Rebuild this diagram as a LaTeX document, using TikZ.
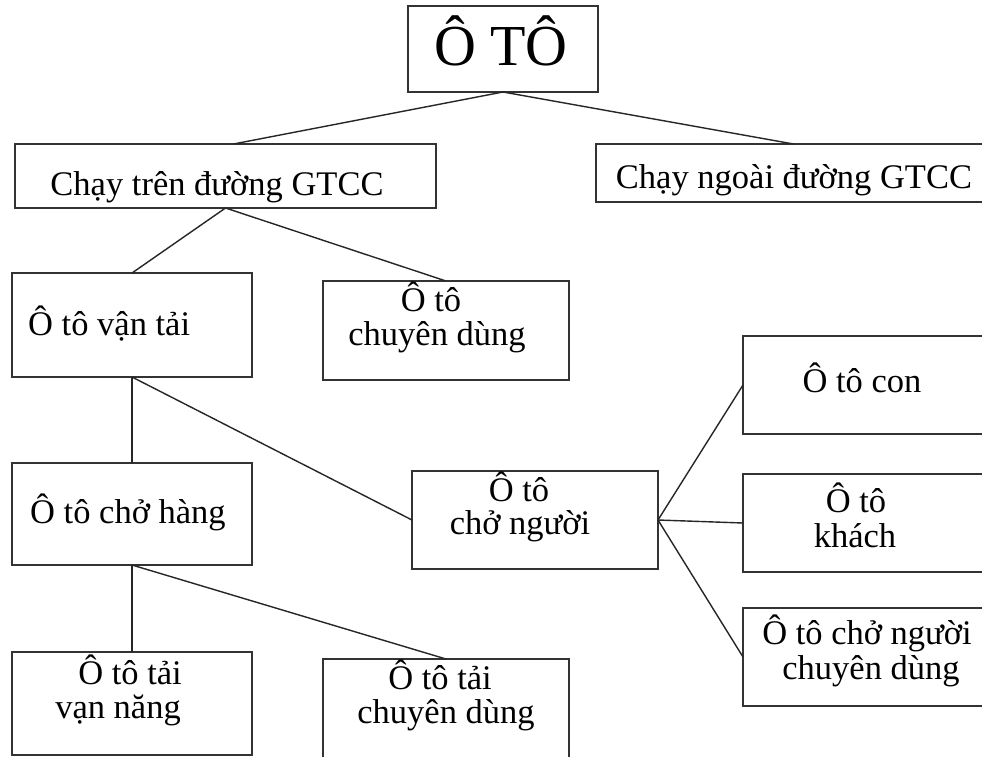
\documentclass[tikz,border=0pt]{standalone}
\usepackage{fontspec}
\setmainfont{Liberation Serif}
\begin{document}
\begin{tikzpicture}[x=1pt,y=-1pt,
  box/.style={draw=black!80,line width=1.8pt,inner sep=0pt,outer sep=0pt},
  conn/.style={draw=black!85,line width=1.4pt},
  lbl/.style={inner sep=0pt,anchor=base,font=\fontsize{34.5}{36}\selectfont},
  lblw/.style={inner sep=0pt,anchor=base west,font=\fontsize{34.5}{36}\selectfont}]
\clip (0,0) rectangle (982,757);
\fill[white] (0,0) rectangle (982,757);
% boxes
\newcommand{\mybox}[5]{\node[box,minimum width={#3-#2},minimum height={#5-#4}] (#1) at ({(#2+#3)/2},{(#4+#5)/2}) {};}
\mybox{root}{408}{598}{6}{92}
\mybox{A}{15}{436}{144}{208}
\mybox{B}{596}{991}{144}{202}
\mybox{C}{12}{252}{273}{377}
\mybox{D}{323}{569}{281}{380}
\mybox{E}{12}{252}{463}{565}
\mybox{F}{412}{658}{471}{569}
\mybox{G}{743}{995}{336}{434}
\mybox{H}{743}{995}{474}{572}
\mybox{I}{743}{995}{608}{706}
\mybox{J}{12}{252}{652}{755}
\mybox{K}{323}{569}{659}{790}
% texts
\node[lbl,font=\fontsize{58}{60}\selectfont] (t0) at (501,66) {Ô TÔ};
\node[lbl] (tA) at (217,195) {Chạy trên đường GTCC};
\node[lbl] (tB) at (794,188) {Chạy ngoài đường GTCC};
\node[lblw] (tC) at (28,335) {Ô tô vận tải};
\node[lbl] (tD1) at (431,311) {Ô tô};
\node[lbl] (tD2) at (437,345) {chuyên dùng};
\node[lblw] (tE) at (30,523) {Ô tô chở hàng};
\node[lbl] (tF1) at (519,501) {Ô tô};
\node[lbl] (tF2) at (520,534) {chở người};
\node[lbl] (tG) at (862,392) {Ô tô con};
\node[lbl] (tH1) at (856,512) {Ô tô};
\node[lbl] (tH2) at (855,547) {khách};
\node[lbl] (tI1) at (867,644) {Ô tô chở người};
\node[lbl] (tI2) at (871,679) {chuyên dùng};
\node[lbl] (tJ1) at (130,684) {Ô tô tải};
\node[lbl] (tJ2) at (118,718) {vạn năng};
\node[lbl] (tK1) at (440,689) {Ô tô tải};
\node[lbl] (tK2) at (446,723) {chuyên dùng};
% connectors
\draw[conn] (root.south) -- ([xshift=8pt]A.north);
\draw[conn] (root.south) -- (B.north);
\draw[conn] (A.south) -- (C.north);
\draw[conn] (A.south) -- (D.north);
\draw[conn] (C.south) -- (E.north);
\draw[conn] (C.south) -- (F.west);
\draw[conn] (E.south) -- (J.north);
\draw[conn] (E.south) -- (K.north);
\draw[conn] (F.east) -- (G.west);
\draw[conn] (F.east) -- (H.west);
\draw[conn] (F.east) -- (I.west);
\end{tikzpicture}
\end{document}
